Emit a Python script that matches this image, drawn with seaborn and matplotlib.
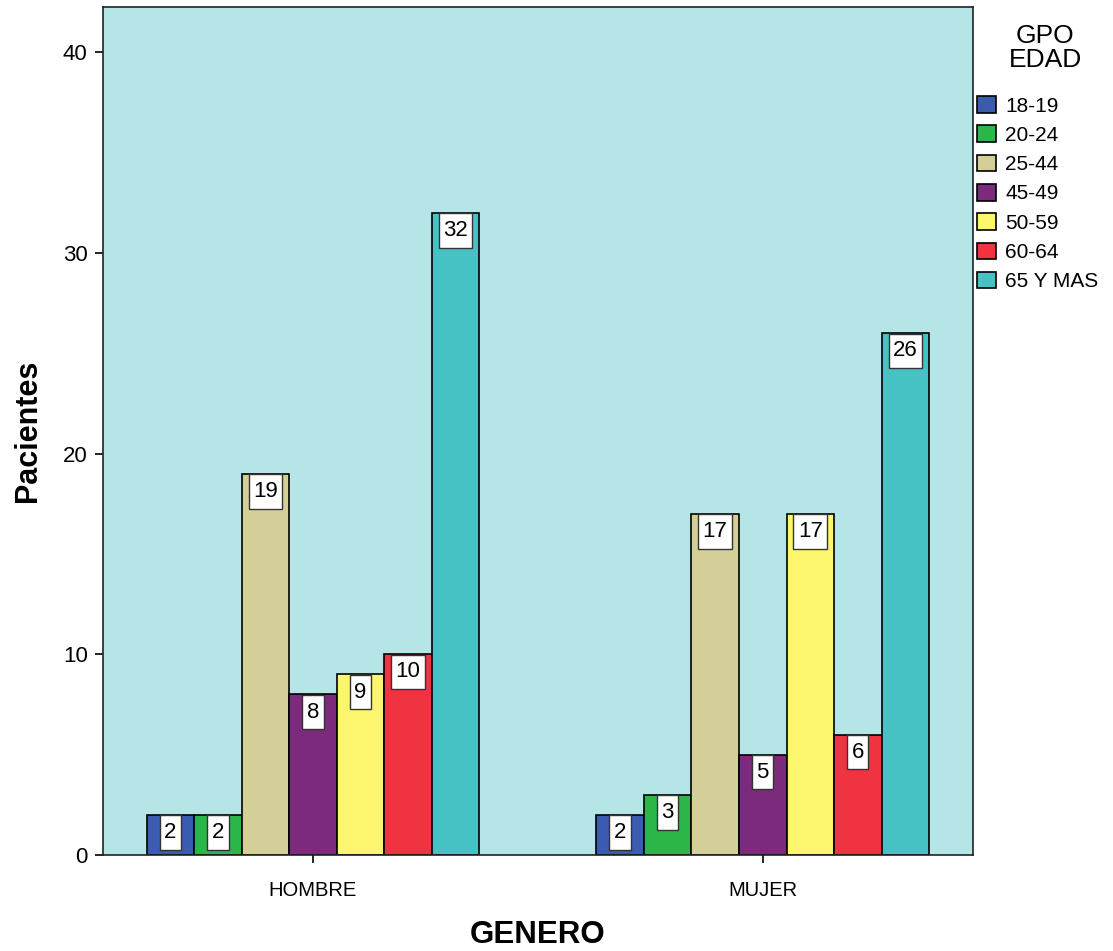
import matplotlib
matplotlib.use("Agg")
import matplotlib.pyplot as plt
from matplotlib.path import Path
import seaborn as sns
import pandas as pd

# Patients by gender and age group
generos = ["HOMBRE", "MUJER"]
grupos_edad = ["18-19", "20-24", "25-44", "45-49", "50-59", "60-64", "65 Y MAS"]
hombre = [2, 2, 19, 8, 9, 10, 32]
mujer = [2, 3, 17, 5, 17, 6, 26]

colores = ["#3a5bb0", "#2bb64a", "#d4cf98", "#7c2a7c", "#fcf66e", "#ef3340", "#47c2c4"]

df = pd.DataFrame({
    "GENERO": [generos[0]] * len(grupos_edad) + [generos[1]] * len(grupos_edad),
    "GPO EDAD": grupos_edad * 2,
    "Pacientes": hombre + mujer,
})

sns.set_style("white")
plt.rcParams["font.family"] = ["Liberation Sans", "DejaVu Sans"]
for k in ("text.color", "axes.labelcolor", "xtick.color", "ytick.color"):
    plt.rcParams[k] = "black"


def caja(x0, y0, width, height, mutation_size):
    """Label box with separate horizontal and vertical padding."""
    px = 0.2 * mutation_size
    py = 0.3 * mutation_size
    return Path([(x0 - px, y0 - py), (x0 + width + px, y0 - py),
                 (x0 + width + px, y0 + height + py), (x0 - px, y0 + height + py),
                 (x0 - px, y0 - py)], closed=True)


fig = plt.figure(figsize=(11.13, 9.51), dpi=100)
ax = fig.add_axes([0.0925, 0.101, 0.7815, 0.8916])
ax.set_facecolor("#b5e5e6")

sns.barplot(data=df, x="GENERO", y="Pacientes", hue="GPO EDAD",
            hue_order=grupos_edad, order=generos, palette=colores,
            width=0.74, edgecolor="black", linewidth=1.2, saturation=1,
            errorbar=None, ax=ax, zorder=2)

# value labels in white boxes hanging from each bar top
for cont in ax.containers:
    for bar in cont:
        h = bar.get_height()
        ax.annotate(f"{int(h)}", (bar.get_x() + bar.get_width() / 2, h),
                    xytext=(0, -5.2), textcoords="offset points",
                    ha="center", va="top", fontsize=16, zorder=5,
                    bbox=dict(boxstyle=caja, fc="white",
                              ec="#333333", lw=1.0))

ax.set_ylim(0, 42.25)
ax.set_xlim(-0.467, 1.467)
ax.set_yticks([0, 10, 20, 30, 40])
ax.tick_params(axis="y", labelsize=16, length=6, width=1.2, left=True, pad=5)
ax.tick_params(axis="x", labelsize=14.5, length=6, width=1.2, bottom=True, pad=13)
for s in ax.spines.values():
    s.set_color("#222222")
    s.set_linewidth(1.2)

ax.set_ylabel("Pacientes", fontsize=22, fontweight="bold", labelpad=14)
ax.set_xlabel("GENERO", fontsize=22.5, fontweight="bold", labelpad=14)

leg = ax.legend(loc="upper left", bbox_to_anchor=(1.0, 0.9),
                frameon=False, fontsize=15,
                handlelength=0.92, handleheight=0.85, handletextpad=0.45,
                labelspacing=0.47, borderaxespad=0.0, borderpad=0.2)
for h in leg.legend_handles:
    h.set_edgecolor("black")
fig.text(0.939, 0.975, "GPO\nEDAD", ha="center", va="top", fontsize=19,
         linespacing=1.0)

fig.savefig("out.png", dpi=100)
